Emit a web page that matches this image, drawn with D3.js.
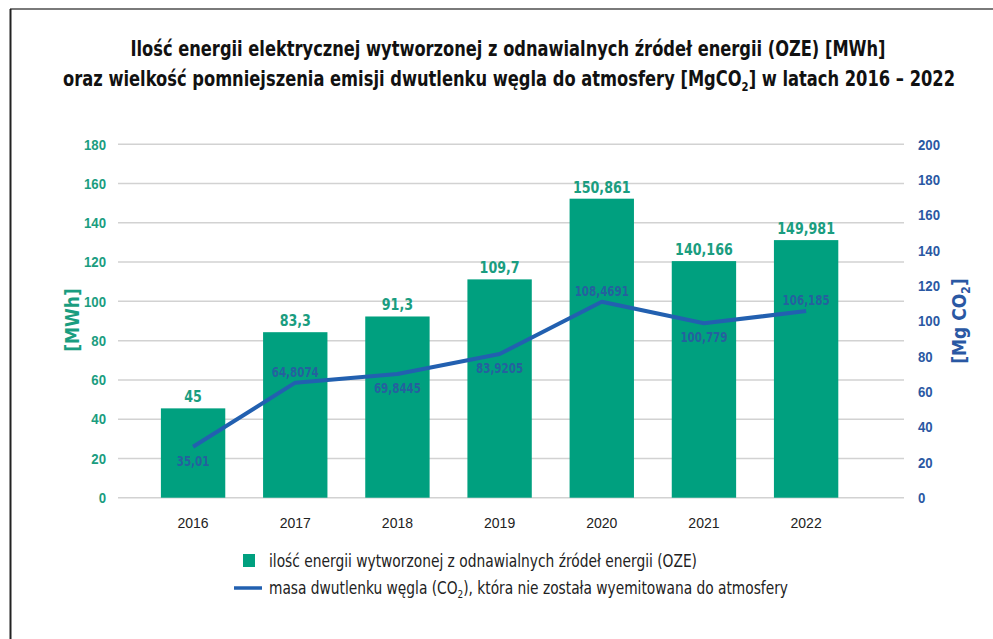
<!DOCTYPE html>
<html>
<head>
<meta charset="utf-8">
<script src="https://cdn.jsdelivr.net/npm/d3@7"></script>
<style>
  body { margin: 0; background: #fff; }
  svg text { font-family: "Liberation Sans Narrow", "DejaVu Sans Condensed", "Arial Narrow", sans-serif; }
</style>
</head>
<body>
<svg id="chart" width="993" height="639"></svg>
<script>
// data
const years = ["2016", "2017", "2018", "2019", "2020", "2021", "2022"];
const energy = [45.5, 84.3, 92.3, 111.2, 152.3, 120.5, 131.2];
const energyLabels = ["45", "83,3", "91,3", "109,7", "150,861", "140,166", "149,981"];
const co2 = [28.8, 65.1, 70.0, 81.3, 110.9, 98.7, 105.6];
const co2Labels = ["35,01", "64,8074", "69,8445", "83,9205", "108,4691", "100,779", "106,185"];
const co2LabelSide = ["below", "above", "below", "below", "above", "below", "above"];
const leftTicks = [0, 20, 40, 60, 80, 100, 120, 140, 160, 180];
const rightTicks = [0, 20, 40, 60, 80, 100, 120, 140, 160, 180, 200];

const green = "#00a07f";
const teal = "#1a9d80";
const blue = "#2260b0";
const blueText = "#2a58a3";

const svg = d3.select("#chart");

// squeeze text a bit, the original uses a condensed face
const condense = (sel, k) => {
  sel.each(function () {
    const w = this.getComputedTextLength();
    d3.select(this).attr("textLength", w * k).attr("lengthAdjust", "spacingAndGlyphs");
  });
};

// frame
svg.append("line").attr("x1", 10).attr("x2", 993).attr("y1", 9).attr("y2", 9)
  .attr("stroke", "#7a7a7a").attr("stroke-width", 2);
svg.append("line").attr("x1", 10.5).attr("x2", 10.5).attr("y1", 9).attr("y2", 639)
  .attr("stroke", "#222").attr("stroke-width", 2);

// title
const title = svg.append("g").attr("font-weight", "bold").attr("fill", "#111")
  .attr("font-size", 21).attr("text-anchor", "middle");
title.append("text").attr("x", 508).attr("y", 56)
  .attr("textLength", 755).attr("lengthAdjust", "spacingAndGlyphs")
  .text("Ilość energii elektrycznej wytworzonej z odnawialnych źródeł energii (OZE) [MWh]");
const t2 = title.append("text").attr("x", 509).attr("y", 86)
  .attr("textLength", 892).attr("lengthAdjust", "spacingAndGlyphs");
t2.append("tspan").text("oraz wielkość pomniejszenia emisji dwutlenku węgla do atmosfery [MgCO");
t2.append("tspan").attr("font-size", 13).attr("dy", 5).text("2");
t2.append("tspan").attr("dy", -5).text("] w latach 2016 – 2022");

// scales
const x = d3.scaleBand().domain(years).range([142, 857.2])
  .paddingInner(0.37).paddingOuter(0.185);
const yL = d3.scaleLinear().domain([0, 180]).range([497.7, 144.3]);
const yR = d3.scaleLinear().domain([0, 200]).range([497.7, 144.3]);

// gridlines
svg.append("g").selectAll("line").data(leftTicks).join("line")
  .attr("x1", 118).attr("x2", 904)
  .attr("y1", (d) => yL(d)).attr("y2", (d) => yL(d))
  .attr("stroke", "#d2d2d2").attr("stroke-width", 1.5);

// left axis
const axL = svg.append("g").attr("transform", "translate(118,0)")
  .call(d3.axisLeft(yL).tickValues(leftTicks).tickSize(0).tickPadding(12));
axL.select(".domain").remove();
axL.selectAll("text").attr("fill", teal).attr("font-size", 15).attr("font-weight", "bold")
  .style("font-family", "inherit").call(condense, 0.88);

// right axis
const axR = svg.append("g").attr("transform", "translate(904,0)")
  .call(d3.axisRight(yR).tickValues(rightTicks).tickSize(0).tickPadding(14));
axR.select(".domain").remove();
axR.selectAll("text").attr("fill", blueText).attr("font-size", 15).attr("font-weight", "bold")
  .style("font-family", "inherit").call(condense, 0.88);

// x axis labels
const axX = svg.append("g").attr("transform", "translate(0,513)")
  .call(d3.axisBottom(x).tickSize(0).tickPadding(5));
axX.select(".domain").remove();
axX.selectAll("text").attr("fill", "#222").attr("font-size", 14).style("font-family", "inherit");

// axis titles
svg.append("text").attr("transform", "translate(79,320) rotate(-90)")
  .attr("text-anchor", "middle").attr("fill", teal).attr("font-size", 19)
  .attr("font-weight", "bold").text("[MWh]");
const rt = svg.append("text").attr("transform", "translate(966,321) rotate(-90)")
  .attr("text-anchor", "middle").attr("fill", blueText).attr("font-size", 19)
  .attr("font-weight", "bold");
rt.append("tspan").text("[Mg CO");
rt.append("tspan").attr("font-size", 12).attr("dy", 4).text("2");
rt.append("tspan").attr("dy", -4).text("]");

// bars
svg.append("g").selectAll("rect").data(years).join("rect")
  .attr("x", (d) => x(d))
  .attr("width", x.bandwidth())
  .attr("y", (d, i) => yL(energy[i]))
  .attr("height", (d, i) => yL(0) - yL(energy[i]))
  .attr("fill", green);

svg.append("g").selectAll("text").data(years).join("text")
  .attr("x", (d) => x(d) + x.bandwidth() / 2)
  .attr("y", (d, i) => yL(energy[i]) - 6)
  .attr("text-anchor", "middle").attr("fill", teal)
  .attr("font-size", 16).attr("font-weight", "bold")
  .text((d, i) => energyLabels[i])
  .call(condense, 0.88);

// line
const line = d3.line()
  .x((d, i) => x(years[i]) + x.bandwidth() / 2)
  .y((d) => yR(d));
svg.append("path").datum(co2).attr("d", line)
  .attr("fill", "none").attr("stroke", blue).attr("stroke-width", 4)
  .attr("stroke-linejoin", "round");

svg.append("g").selectAll("text").data(co2).join("text")
  .attr("x", (d, i) => x(years[i]) + x.bandwidth() / 2)
  .attr("y", (d, i) => yR(d) + (co2LabelSide[i] === "above" ? -6 : 19))
  .attr("text-anchor", "middle").attr("fill", blueText).attr("fill-opacity", 0.9)
  .attr("font-size", 14).attr("font-weight", "bold")
  .text((d, i) => co2Labels[i])
  .call(condense, 0.82);

// legend
const leg = svg.append("g").attr("font-size", 17).attr("fill", "#222");
leg.append("rect").attr("x", 243).attr("y", 554).attr("width", 12).attr("height", 13).attr("fill", green);
leg.append("text").attr("x", 269).attr("y", 567)
  .attr("textLength", 428).attr("lengthAdjust", "spacingAndGlyphs")
  .text("ilość energii wytworzonej z odnawialnych źródeł energii (OZE)");
leg.append("line").attr("x1", 234).attr("x2", 262).attr("y1", 588).attr("y2", 588)
  .attr("stroke", blue).attr("stroke-width", 3.5);
const l2 = leg.append("text").attr("x", 269).attr("y", 594)
  .attr("textLength", 519).attr("lengthAdjust", "spacingAndGlyphs");
l2.append("tspan").text("masa dwutlenku węgla (CO");
l2.append("tspan").attr("font-size", 11).attr("dy", 4).text("2");
l2.append("tspan").attr("dy", -4).text("), która nie została wyemitowana do atmosfery");
</script>
</body>
</html>
